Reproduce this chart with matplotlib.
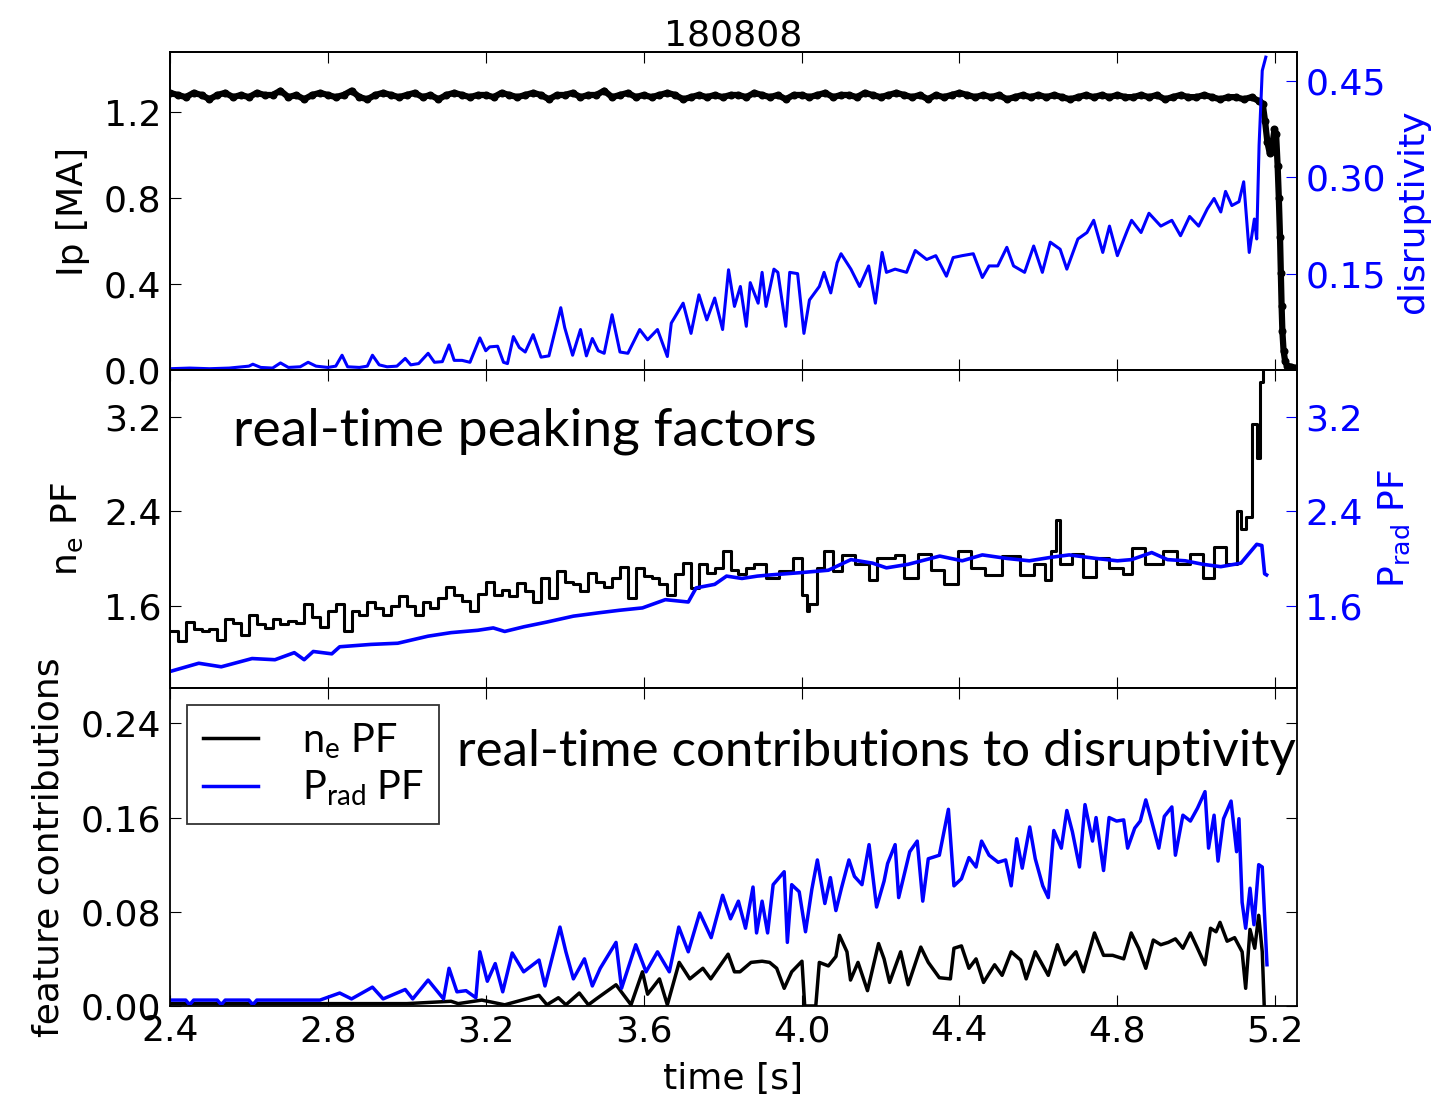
"""Shot 180808: plasma current, disruptivity, peaking factors and their
contributions to the real-time disruptivity."""
import matplotlib

matplotlib.use("Agg")
import matplotlib.pyplot as plt
import numpy as np

BLUE = "#0000ff"
INK = "#000000"
LABEL_FONT = ["Lato", "DejaVu Sans"]

# ---- top panel: plasma current (uniform 20 ms samples, then the quench) ----
ip_flat = [
    1.29, 1.28, 1.27, 1.29, 1.28, 1.26, 1.28, 1.29, 1.27, 1.28,
    1.27, 1.29, 1.28, 1.28, 1.30, 1.27, 1.28, 1.26, 1.28, 1.29,
    1.28, 1.27, 1.28, 1.30, 1.27, 1.26, 1.28, 1.29, 1.28, 1.27,
    1.28, 1.29, 1.27, 1.28, 1.26, 1.28, 1.29, 1.28, 1.27, 1.28,
    1.28, 1.27, 1.29, 1.28, 1.27, 1.28, 1.29, 1.28, 1.26, 1.28,
    1.28, 1.29, 1.27, 1.28, 1.28, 1.30, 1.27, 1.28, 1.29, 1.27,
    1.28, 1.27, 1.28, 1.29, 1.28, 1.26, 1.27, 1.28, 1.27, 1.28,
    1.27, 1.28, 1.28, 1.27, 1.29, 1.28, 1.27, 1.28, 1.26, 1.28,
    1.28, 1.27, 1.28, 1.29, 1.27, 1.28, 1.28, 1.27, 1.29, 1.28,
    1.27, 1.28, 1.29, 1.28, 1.27, 1.28, 1.26, 1.28, 1.27, 1.28,
    1.29, 1.28, 1.27, 1.28, 1.27, 1.28, 1.26, 1.27, 1.28, 1.27,
    1.28, 1.27, 1.28, 1.27, 1.26, 1.27, 1.28, 1.27, 1.28, 1.27,
    1.28, 1.27, 1.27, 1.28, 1.27, 1.28, 1.26, 1.27, 1.28, 1.27,
    1.27, 1.28, 1.27, 1.26, 1.27, 1.27, 1.26, 1.27, 1.25,
]
ip_flat_t = np.round(np.arange(len(ip_flat)) * 0.02 + 2.40, 3)
quench_t = [5.168, 5.174, 5.180, 5.186, 5.192, 5.198, 5.202, 5.206, 5.209,
            5.212, 5.214, 5.216, 5.218, 5.221, 5.225, 5.230, 5.240, 5.250]
quench_ip = [1.24, 1.16, 1.06, 1.01, 1.04, 1.12, 1.10, 0.95, 0.80,
             0.62, 0.45, 0.30, 0.18, 0.09, 0.04, 0.02, 0.015, 0.01]

disr_t = [2.400, 2.450, 2.500, 2.550, 2.600, 2.610, 2.630, 2.660, 2.680, 2.700,
          2.730, 2.750, 2.770, 2.800, 2.820, 2.836, 2.850, 2.880, 2.900, 2.913,
          2.930, 2.950, 2.975, 2.996, 3.010, 3.030, 3.054, 3.070, 3.090, 3.107,
          3.120, 3.140, 3.160, 3.185, 3.200, 3.210, 3.230, 3.245, 3.255, 3.270,
          3.285, 3.300, 3.320, 3.340, 3.360, 3.390, 3.400, 3.420, 3.440, 3.455,
          3.470, 3.485, 3.500, 3.520, 3.540, 3.560, 3.590, 3.610, 3.635, 3.660,
          3.670, 3.700, 3.720, 3.740, 3.760, 3.780, 3.800, 3.815, 3.830, 3.845,
          3.860, 3.870, 3.890, 3.900, 3.910, 3.930, 3.940, 3.960, 3.970, 3.990,
          4.006, 4.020, 4.045, 4.057, 4.074, 4.090, 4.100, 4.125, 4.147, 4.170,
          4.187, 4.204, 4.215, 4.237, 4.266, 4.288, 4.317, 4.340, 4.367, 4.384,
          4.407, 4.435, 4.458, 4.475, 4.497, 4.520, 4.537, 4.565, 4.588, 4.610,
          4.630, 4.655, 4.672, 4.700, 4.723, 4.740, 4.763, 4.780, 4.800, 4.825,
          4.836, 4.860, 4.880, 4.910, 4.938, 4.960, 4.983, 5.006, 5.028, 5.045,
          5.062, 5.074, 5.090, 5.108, 5.120, 5.134, 5.147, 5.153, 5.159, 5.167,
          5.176]
disr = [0.002, 0.003, 0.002, 0.003, 0.006, 0.009, 0.004, 0.003, 0.011, 0.004,
        0.005, 0.012, 0.006, 0.004, 0.006, 0.023, 0.005, 0.004, 0.006, 0.023,
        0.008, 0.005, 0.006, 0.018, 0.008, 0.010, 0.026, 0.012, 0.013, 0.039,
        0.015, 0.015, 0.012, 0.050, 0.030, 0.036, 0.037, 0.012, 0.010, 0.052,
        0.035, 0.028, 0.055, 0.020, 0.022, 0.097, 0.066, 0.023, 0.063, 0.022,
        0.049, 0.030, 0.026, 0.086, 0.028, 0.026, 0.063, 0.047, 0.063, 0.021,
        0.073, 0.104, 0.057, 0.117, 0.078, 0.112, 0.063, 0.156, 0.099, 0.130,
        0.068, 0.136, 0.104, 0.152, 0.099, 0.157, 0.152, 0.068, 0.152, 0.150,
        0.057, 0.109, 0.130, 0.152, 0.120, 0.167, 0.181, 0.157, 0.130, 0.162,
        0.104, 0.183, 0.152, 0.157, 0.152, 0.186, 0.172, 0.178, 0.146, 0.175,
        0.178, 0.181, 0.144, 0.162, 0.162, 0.191, 0.162, 0.152, 0.193, 0.152,
        0.199, 0.188, 0.157, 0.204, 0.214, 0.233, 0.183, 0.224, 0.178, 0.217,
        0.233, 0.214, 0.244, 0.224, 0.233, 0.209, 0.239, 0.224, 0.251, 0.267,
        0.246, 0.278, 0.256, 0.262, 0.293, 0.183, 0.235, 0.204, 0.350, 0.466,
        0.487]

# ---- middle panel: peaking factors ----
prad_pf_t = [2.400, 2.473, 2.530, 2.608, 2.666, 2.715, 2.740, 2.763, 2.810, 2.830,
             2.909, 2.977, 3.054, 3.112, 3.180, 3.219, 3.248, 3.297, 3.355, 3.422,
             3.490, 3.539, 3.597, 3.655, 3.713, 3.733, 3.780, 3.810, 3.849, 3.888,
             3.921, 4.000, 4.068, 4.125, 4.180, 4.215, 4.270, 4.350, 4.407, 4.458,
             4.520, 4.577, 4.633, 4.678, 4.746, 4.800, 4.836, 4.887, 4.927, 4.972,
             5.017, 5.062, 5.113, 5.153, 5.166, 5.173, 5.178]
prad_pf = [1.04, 1.11, 1.08, 1.15, 1.14, 1.20, 1.14, 1.21, 1.19, 1.25,
           1.27, 1.28, 1.34, 1.37, 1.39, 1.41, 1.38, 1.42, 1.46, 1.51,
           1.54, 1.56, 1.58, 1.65, 1.63, 1.75, 1.78, 1.85, 1.83, 1.85,
           1.86, 1.88, 1.90, 1.99, 1.96, 1.92, 1.95, 2.02, 1.98, 2.03,
           2.00, 1.98, 2.01, 2.03, 2.00, 1.98, 1.99, 2.05, 1.99, 1.98,
           1.95, 1.93, 1.96, 2.12, 2.11, 1.87, 1.86]

ne_pf_t = [2.40, 2.42, 2.44, 2.46, 2.48, 2.50, 2.52, 2.54, 2.56, 2.58,
           2.60, 2.62, 2.64, 2.66, 2.68, 2.70, 2.72, 2.74, 2.76, 2.78,
           2.80, 2.82, 2.84, 2.86, 2.88, 2.90, 2.92, 2.94, 2.96, 2.98,
           3.00, 3.02, 3.04, 3.06, 3.08, 3.10, 3.12, 3.14, 3.16, 3.18,
           3.20, 3.22, 3.24, 3.26, 3.28, 3.30, 3.32, 3.34, 3.36, 3.38,
           3.40, 3.42, 3.44, 3.46, 3.48, 3.50, 3.52, 3.54, 3.56, 3.58,
           3.60, 3.62, 3.64, 3.66, 3.68, 3.70, 3.72, 3.74, 3.76, 3.78,
           3.80, 3.82, 3.84, 3.86, 3.88, 3.910, 3.944, 3.978,
           4.000, 4.013, 4.020, 4.040, 4.057, 4.080, 4.102, 4.136, 4.170, 4.190,
           4.237, 4.260, 4.294, 4.328, 4.362, 4.396, 4.430, 4.464, 4.509, 4.554,
           4.588, 4.616, 4.633, 4.644, 4.655, 4.684, 4.712, 4.746, 4.780, 4.814,
           4.836, 4.870, 4.915, 4.950, 4.983, 5.017, 5.045, 5.074, 5.102, 5.113,
           5.125, 5.140, 5.153, 5.162, 5.170, 5.176]
ne_pf = [1.38, 1.30, 1.46, 1.40, 1.38, 1.40, 1.31, 1.49, 1.45, 1.35,
         1.52, 1.44, 1.41, 1.49, 1.44, 1.47, 1.45, 1.61, 1.50, 1.42,
         1.55, 1.61, 1.38, 1.55, 1.52, 1.63, 1.58, 1.52, 1.60, 1.68,
         1.60, 1.52, 1.63, 1.58, 1.66, 1.76, 1.69, 1.64, 1.55, 1.70,
         1.80, 1.69, 1.73, 1.68, 1.79, 1.72, 1.63, 1.83, 1.66, 1.89,
         1.80, 1.78, 1.72, 1.88, 1.80, 1.76, 1.83, 1.93, 1.66, 1.92,
         1.85, 1.83, 1.78, 1.69, 1.87, 1.96, 1.75, 1.95, 1.88, 1.92,
         2.06, 1.90, 1.87, 1.92, 1.95, 1.83, 1.89, 2.00,
         1.69, 1.55, 1.61, 1.92, 2.06, 1.89, 2.03, 1.95, 1.82, 2.00,
         2.03, 1.83, 2.04, 1.90, 1.78, 2.06, 1.92, 1.86, 2.02, 1.86,
         1.95, 1.82, 2.06, 2.33, 1.95, 2.04, 1.84, 2.00, 1.92, 1.87,
         2.09, 1.95, 2.06, 1.95, 2.04, 1.83, 2.10, 1.95, 2.40, 2.25,
         2.35, 3.14, 2.85, 3.50, 3.80, 3.80]

# ---- bottom panel: feature contributions to disruptivity ----
prad_c_t = [2.400, 2.440, 2.450, 2.460, 2.520, 2.530, 2.540, 2.600, 2.610, 2.620,
            2.700, 2.780, 2.830, 2.860, 2.913, 2.940, 2.996, 3.015, 3.054, 3.093,
            3.107, 3.127, 3.150, 3.175, 3.185, 3.204, 3.224, 3.243, 3.267, 3.296,
            3.335, 3.350, 3.388, 3.403, 3.422, 3.450, 3.470, 3.490, 3.530, 3.544,
            3.580, 3.606, 3.635, 3.665, 3.689, 3.713, 3.742, 3.771, 3.800, 3.820,
            3.840, 3.858, 3.877, 3.886, 3.900, 3.914, 3.928, 3.956, 3.964, 3.975,
            3.994, 4.010, 4.026, 4.040, 4.059, 4.073, 4.087, 4.101, 4.120, 4.134,
            4.153, 4.171, 4.190, 4.209, 4.218, 4.237, 4.246, 4.274, 4.293, 4.307,
            4.321, 4.349, 4.372, 4.386, 4.405, 4.424, 4.442, 4.456, 4.475, 4.498,
            4.517, 4.531, 4.545, 4.559, 4.578, 4.592, 4.611, 4.625, 4.639, 4.658,
            4.672, 4.686, 4.704, 4.718, 4.737, 4.746, 4.765, 4.779, 4.798, 4.816,
            4.826, 4.844, 4.858, 4.872, 4.886, 4.905, 4.919, 4.938, 4.947, 4.966,
            4.985, 5.003, 5.022, 5.031, 5.045, 5.055, 5.069, 5.088, 5.102, 5.108,
            5.116, 5.125, 5.136, 5.146, 5.158, 5.167, 5.179]
prad_c = [0.005, 0.005, 0.001, 0.005, 0.005, 0.001, 0.005, 0.005, 0.001, 0.005,
          0.005, 0.005, 0.011, 0.006, 0.016, 0.006, 0.014, 0.006, 0.022, 0.006,
          0.032, 0.012, 0.013, 0.007, 0.046, 0.021, 0.036, 0.012, 0.045, 0.029,
          0.039, 0.017, 0.067, 0.046, 0.023, 0.040, 0.017, 0.032, 0.054, 0.015,
          0.052, 0.029, 0.046, 0.029, 0.067, 0.046, 0.079, 0.058, 0.094, 0.074,
          0.089, 0.066, 0.101, 0.062, 0.089, 0.062, 0.103, 0.114, 0.054, 0.103,
          0.097, 0.063, 0.099, 0.124, 0.087, 0.109, 0.081, 0.100, 0.124, 0.110,
          0.103, 0.137, 0.084, 0.106, 0.121, 0.137, 0.092, 0.131, 0.140, 0.089,
          0.125, 0.128, 0.167, 0.102, 0.108, 0.126, 0.118, 0.140, 0.128, 0.122,
          0.124, 0.102, 0.142, 0.117, 0.152, 0.125, 0.102, 0.092, 0.149, 0.134,
          0.166, 0.148, 0.118, 0.171, 0.140, 0.160, 0.115, 0.160, 0.157, 0.158,
          0.134, 0.151, 0.157, 0.175, 0.158, 0.134, 0.161, 0.169, 0.128, 0.162,
          0.157, 0.168, 0.182, 0.134, 0.162, 0.123, 0.159, 0.174, 0.131, 0.159,
          0.088, 0.066, 0.100, 0.069, 0.120, 0.118, 0.035]

ne_c_t = [2.400, 2.500, 2.600, 2.700, 2.800, 2.900, 3.000, 3.112, 3.130, 3.190,
          3.248, 3.335, 3.355, 3.384, 3.403, 3.437, 3.460, 3.480, 3.530, 3.568,
          3.597, 3.610, 3.640, 3.660, 3.690, 3.717, 3.750, 3.770, 3.814, 3.830,
          3.844, 3.872, 3.900, 3.919, 3.937, 3.956, 3.975, 4.001, 4.008, 4.036,
          4.045, 4.068, 4.087, 4.096, 4.115, 4.124, 4.143, 4.167, 4.195, 4.209,
          4.223, 4.251, 4.270, 4.302, 4.321, 4.349, 4.377, 4.386, 4.405, 4.424,
          4.442, 4.461, 4.489, 4.508, 4.531, 4.555, 4.569, 4.592, 4.625, 4.648,
          4.667, 4.695, 4.714, 4.742, 4.765, 4.788, 4.816, 4.835, 4.854, 4.872,
          4.891, 4.910, 4.929, 4.947, 4.966, 4.985, 5.003, 5.022, 5.036, 5.050,
          5.060, 5.078, 5.097, 5.116, 5.125, 5.136, 5.148, 5.158, 5.167, 5.172]
ne_c = [0.002, 0.002, 0.002, 0.002, 0.002, 0.002, 0.002, 0.004, 0.002, 0.005,
        0.001, 0.009, 0.001, 0.007, 0.001, 0.011, 0.001, 0.006, 0.018, 0.001,
        0.029, 0.010, 0.023, 0.001, 0.037, 0.023, 0.032, 0.023, 0.044, 0.029,
        0.029, 0.037, 0.038, 0.037, 0.032, 0.015, 0.029, 0.038, 0.000, 0.000,
        0.037, 0.034, 0.042, 0.060, 0.046, 0.022, 0.037, 0.013, 0.053, 0.040,
        0.020, 0.046, 0.018, 0.050, 0.037, 0.024, 0.023, 0.049, 0.051, 0.032,
        0.040, 0.020, 0.035, 0.026, 0.046, 0.039, 0.023, 0.046, 0.026, 0.052,
        0.035, 0.046, 0.029, 0.062, 0.043, 0.043, 0.040, 0.062, 0.049, 0.032,
        0.056, 0.052, 0.054, 0.057, 0.049, 0.062, 0.049, 0.035, 0.066, 0.063,
        0.071, 0.055, 0.058, 0.046, 0.015, 0.065, 0.049, 0.077, 0.046, 0.000]

plt.rcParams.update({
    "font.family": ["DejaVu Sans"],
    "font.size": 26,
    "mathtext.default": "regular",
    "xtick.direction": "in",
    "ytick.direction": "in",
    "xtick.major.size": 8,
    "ytick.major.size": 8,
    "axes.linewidth": 1.3,
})

fig = plt.figure(figsize=(14.55, 10.95), dpi=100)
left, width, height = 0.1168, 0.7746, 0.2904
ax1 = fig.add_axes([left, 0.6621, width, height])
ax2 = fig.add_axes([left, 0.3717, width, height], sharex=ax1)
ax3 = fig.add_axes([left, 0.0813, width, height], sharex=ax1)

# top: Ip and disruptivity
ax1.plot(list(ip_flat_t) + quench_t, ip_flat + quench_ip, "k.-",
         linewidth=4.5, markersize=9.5)
ax1.set_ylim(0, 1.48)
ax1.set_yticks([0.0, 0.4, 0.8, 1.2])
ax1.set_ylabel("Ip [MA]", labelpad=10)
ax1.set_title("180808", fontsize=26, pad=3)
ax1r = ax1.twinx()
ax1r.plot(disr_t, disr, color=BLUE, linewidth=2.2)
ax1r.set_ylim(0, 0.495)
ax1r.set_yticks([0.15, 0.30, 0.45])
ax1r.set_ylabel("disruptivity", color=BLUE, labelpad=7)

# middle: peaking factors
ax2.plot(ne_pf_t, ne_pf, color=INK, linewidth=2.2, drawstyle="steps-post")
ax2.set_ylim(0.9, 3.6)
ax2.set_yticks([1.6, 2.4, 3.2])
ax2.set_ylabel("n$_e$ PF", labelpad=14)
ax2r = ax2.twinx()
ax2r.plot(prad_pf_t, prad_pf, color=BLUE, linewidth=2.6)
ax2r.set_ylim(0.9, 3.6)
ax2r.set_yticks([1.6, 2.4, 3.2])
ax2r.set_ylabel("P$_{rad}$ PF", color=BLUE, labelpad=10)
ax2.text(0.056, 0.764, "real-time peaking factors", transform=ax2.transAxes,
         fontsize=38.5, family=LABEL_FONT, va="baseline")

# bottom: contributions
ax3.plot(ne_c_t, ne_c, color=INK, linewidth=2.5, label="n$_e$ PF")
ax3.plot(prad_c_t, prad_c, color=BLUE, linewidth=2.5, label="P$_{rad}$ PF")
ax3.set_ylim(0, 0.27)
ax3.set_yticks([0.00, 0.08, 0.16, 0.24])
ax3.set_yticklabels(["0.00", "0.08", "0.16", "0.24"])
ax3.set_ylabel("feature contributions", labelpad=11)
ax3.set_xlabel("time [s]", labelpad=10)
ax3.text(0.255, 0.755, "real-time contributions to disruptivity",
         transform=ax3.transAxes, fontsize=36.7, family=LABEL_FONT, va="baseline")
leg = ax3.legend(loc="upper left", bbox_to_anchor=(0.015, 0.945), borderaxespad=0,
                 fancybox=False, prop={"family": LABEL_FONT, "size": 28.5},
                 handlelength=1.4, handletextpad=1.1, borderpad=0.4,
                 labelspacing=0.2)
leg.get_frame().set_edgecolor(INK)
leg.get_frame().set_linewidth(1.3)

ax1.set_xlim(2.4, 5.255)
ax1.set_xticks([2.4, 2.8, 3.2, 3.6, 4.0, 4.4, 4.8, 5.2])
for ax in (ax1, ax2, ax3):
    ax.tick_params(axis="x", top=True, bottom=True)
    ax.tick_params(axis="both", labelsize=26, pad=6)
for ax in (ax1, ax2):
    ax.tick_params(axis="x", labelbottom=False)
ax3.tick_params(axis="y", right=True)
for ax in (ax1r, ax2r):
    ax.tick_params(axis="y", colors=BLUE, labelsize=26, pad=6)
    ax.spines["right"].set_color(INK)

fig.savefig("out.png", dpi=100)
